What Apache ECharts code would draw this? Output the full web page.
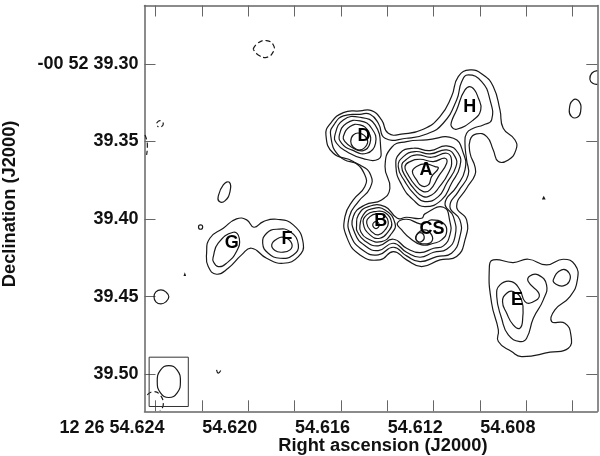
<!DOCTYPE html>
<html>
<head>
<meta charset="utf-8">
<style>
    html, body { margin: 0; padding: 0; background: #fff; }
    #main { width: 600px; height: 456px; }
</style>
<script src="https://cdn.jsdelivr.net/npm/echarts@6/dist/echarts.min.js"></script>
</head>
<body>
<div id="main"></div>
<script>
    // axis values: RA seconds of 12 26 .., Dec arcsec of -00 52 ..
    const raMin = 54.60494, raMax = 54.62448
    const decMin = 39.2623, decMax = 39.5240
    const raTicks = [54.624, 54.622, 54.620, 54.618, 54.616, 54.614, 54.612, 54.610, 54.608, 54.606]
    const raLabelValues = [54.624, 54.620, 54.616, 54.612, 54.608]
    const raLabels = ['12 26 54.624', '54.620', '54.616', '54.612', '54.608']
    const decTicks = [39.30, 39.35, 39.40, 39.45, 39.50]
    const decLabels = ['-00 52 39.30', '39.35', '39.40', '39.45', '39.50']

    // contours: [ms of RA above 54.600, mas of Dec below 39.300]
    const mainOuter = [[16.65,45.77],[16.45,38.25],[15.90,31.37],[15.18,30.30],[14.68,30.09],[14.25,36.10],[13.96,44.70],[13.31,45.13],[12.45,42.12],[11.73,33.95],[11.23,21.06],[10.94,8.17],[10.43,3.87],[9.86,7.09],[9.43,14.61],[9.14,29.66],[9.00,41.47],[8.49,49.0],[8.45,55.44],[8.78,61.89],[9.21,62.96],[9.43,55.44],[9.71,46.85],[10.15,45.13],[10.43,49.0],[10.43,57.59],[10.22,66.19],[10.22,71.56],[10.58,80.16],[11.01,92.0],[10.58,100.57],[10.65,113.47],[11.01,124.21],[11.73,126.36],[12.52,130.66],[13.17,126.36],[13.74,120.99],[14.32,126.36],[15.18,123.14],[15.76,111.32],[15.83,98.42],[15.47,87.68],[14.97,79.08],[14.97,71.56],[15.47,62.96],[16.33,57.59]]
    const mainSecond = [[16.45,45.77],[16.26,38.25],[15.90,33.52],[15.18,32.45],[14.75,32.45],[14.39,38.25],[14.10,47.92],[13.17,47.92],[12.30,45.13],[11.59,38.25],[11.01,23.21],[10.79,11.39],[10.51,7.09],[9.93,11.39],[9.57,23.21],[9.50,36.10],[9.86,39.33],[10.29,41.47],[10.58,44.70],[10.65,51.15],[10.58,61.89],[10.51,71.56],[10.94,82.30],[11.30,92.0],[10.87,100.57],[10.87,111.32],[11.23,122.06],[11.87,124.21],[12.59,127.43],[13.17,123.78],[13.74,118.2],[14.39,123.14],[15.04,120.35],[15.59,110.24],[15.64,98.42],[15.25,88.75],[14.75,80.16],[14.72,71.56],[15.18,65.11],[16.05,59.74]]
    const mainThird = [[13.81,53.72],[13.17,50.07],[12.30,49.0],[11.15,47.92],[10.72,57.59],[10.65,68.34],[11.01,79.08],[11.51,89.83],[11.15,98.42],[11.08,111.32],[11.44,119.5],[12.0,121.42],[12.59,124.64],[13.17,121.42],[13.74,115.62],[14.39,120.35],[14.97,117.12],[15.40,109.17],[15.47,98.42],[14.97,90.9],[14.25,87.68],[13.89,80.16],[14.10,66.19]]
    const mainFourth = [[15.33,104.87],[15.25,97.35],[14.82,91.98],[14.10,91.98],[13.57,99.5],[13.17,98.85],[12.52,99.5],[12.38,96.7],[11.58,92.4],[11.30,101.65],[11.30,110.24],[11.58,117.33],[12.0,118.84],[12.59,121.63],[13.17,118.84],[13.74,113.04],[14.39,117.33],[14.97,114.11],[15.30,108.09]]
    const d1 = [[16.26,45.77],[15.90,36.10],[15.18,34.38],[14.53,39.33],[14.28,55.44],[14.39,61.46],[15.04,61.03],[15.76,56.52],[16.19,51.15]]
    const d2 = [[16.07,45.77],[15.76,38.25],[15.18,36.75],[14.68,41.47],[14.51,51.15],[14.89,57.59],[15.54,55.44],[15.97,51.15]]
    const d3 = [[15.90,46.85],[15.61,40.40],[15.18,39.33],[14.82,43.62],[14.75,51.15],[15.04,55.87],[15.54,53.72],[15.83,50.07]]
    const d4 = [[15.58,50.07],[15.47,45.77],[15.18,44.70],[14.89,47.92],[14.89,52.22],[15.18,55.44],[15.47,53.72]]
    const a1 = [[13.63,66.19],[13.46,57.59],[12.88,54.37],[12.16,55.87],[11.44,52.86],[10.94,57.59],[10.87,66.19],[11.23,76.93],[11.66,87.68],[12.38,91.98],[12.88,87.68],[13.38,78.01]]
    const a2 = [[13.53,66.19],[13.31,59.74],[12.81,56.52],[12.16,58.02],[11.44,55.44],[11.08,59.74],[11.04,66.19],[11.44,76.93],[11.80,85.53],[12.38,88.75],[12.81,84.45],[13.24,75.86]]
    const a3 = [[13.38,66.19],[13.17,61.46],[12.74,58.67],[12.09,60.17],[11.44,57.59],[11.23,61.89],[11.37,70.49],[11.80,80.16],[12.09,84.45],[12.45,85.53],[12.81,81.23],[13.17,73.71]]
    const a4 = [[13.24,66.19],[13.02,62.96],[12.59,61.46],[12.02,62.96],[11.51,60.81],[11.44,64.04],[11.80,72.64],[12.16,81.23],[12.45,82.30],[12.81,78.01],[13.10,71.56]]
    const a5 = [[12.92,69.41],[12.74,66.19],[12.38,64.47],[11.94,66.19],[11.80,67.26],[12.09,72.64],[12.23,78.01],[12.52,78.65],[12.74,74.78]]
    const b1 = [[15.18,103.8],[15.04,97.35],[14.68,93.48],[14.10,94.13],[13.67,102.72],[13.81,109.17],[14.25,114.54],[14.89,112.39],[15.15,108.09]]
    const b2 = [[15.04,102.72],[14.89,97.35],[14.53,95.2],[14.10,95.85],[13.81,102.72],[13.96,108.09],[14.32,112.39],[14.75,110.24]]
    const b3 = [[14.89,102.72],[14.75,98.42],[14.46,96.7],[14.10,97.99],[13.96,102.72],[14.10,107.02],[14.39,110.24],[14.68,108.09]]
    const b4 = [[14.63,103.8],[14.49,101.65],[14.35,103.8],[14.49,106.16]]
    const cs1 = [[13.57,102.72],[13.17,100.14],[12.59,103.15],[12.38,102.72],[12.09,100.57],[11.58,102.72],[11.44,108.09],[11.66,113.47],[12.0,115.62],[12.52,116.69],[13.02,112.39],[13.38,107.02]]
    const cs2 = [[12.74,110.24],[12.38,107.02],[12.09,110.24],[12.09,114.54],[12.38,116.05],[12.71,114.54]]
    const cs3 = [[12.76,111.32],[12.59,108.74],[12.41,111.32],[12.52,114.54],[12.71,114.11]]
    const h1 = [[11.23,37.18],[11.01,29.66],[10.65,16.76],[10.36,15.04],[10.07,22.13],[9.97,29.66],[10.29,36.10],[11.01,42.12],[11.23,40.40]]
    const gfOuter = [[21.80,122.06],[21.66,112.39],[21.08,105.95],[20.51,99.93],[20.07,100.57],[19.76,105.3],[19.35,101.65],[18.78,100.14],[18.06,103.8],[17.63,115.62],[17.84,124.21],[18.49,128.51],[19.21,125.29],[19.86,118.84],[20.29,123.14],[20.87,131.73],[21.37,135.6],[21.73,130.66]]
    const g1 = [[21.51,124.21],[21.30,115.62],[20.65,108.53],[20.39,112.39],[20.51,120.99],[20.94,128.51],[21.30,130.66],[21.51,127.44]]
    const f1 = [[19.38,115.62],[19.21,109.17],[18.78,106.59],[18.20,108.10],[17.84,116.69],[18.06,123.14],[18.63,125.29],[19.14,122.06]]
    const f2 = [[18.99,116.69],[18.78,113.04],[18.42,111.96],[18.13,115.62],[18.20,119.92],[18.56,121.42],[18.85,120.35]]
    const blob1 = [[21.30,85.53],[21.08,78.01],[20.82,76.29],[20.79,82.31],[21.01,88.32],[21.25,88.75]]
    const blob2 = [[22.15,105.09],[22.06,103.8],[21.97,105.09],[22.06,106.59]]
    const blob3 = [[24.07,150.2],[23.99,147.0],[23.77,145.7],[23.56,147.0],[23.43,150.2],[23.56,153.4],[23.77,154.7],[23.99,153.4]]
    const speck1 = [[22.76,136.3],[22.72,136.3],[22.74,135.5]]
    const speck2 = [[7.29,87.0],[7.25,85.8],[7.21,87.0]]
    const rightOval = [[6.15,29.66],[5.98,23.21],[5.72,24.28],[5.66,30.73],[5.80,34.38],[6.05,33.95]]
    const e1 = [[9.60,131.73],[9.43,126.36],[8.57,128.08],[7.92,125.93],[7.13,129.58],[6.41,125.93],[5.90,129.58],[5.80,139.25],[6.12,150.0],[6.77,158.59],[6.91,166.12],[6.34,167.19],[6.08,174.71],[6.19,183.31],[6.98,185.89],[8.21,188.68],[8.64,185.46],[9.21,179.01],[9.21,171.49],[9.50,154.30]]
    const e2 = [[9.28,150.0],[9.14,142.48],[8.64,140.33],[8.28,145.70],[8.06,153.22],[7.77,153.87],[7.44,148.92],[7.92,140.33],[7.85,136.67],[7.49,136.03],[7.13,142.48],[7.27,152.15],[7.70,163.97],[7.99,176.86],[8.28,179.01],[8.78,174.71],[9.07,163.97]]
    const e3 = [[9.03,153.22],[8.85,147.85],[8.57,146.77],[8.21,152.15],[8.16,163.97],[8.28,170.41],[8.57,168.26],[8.85,160.74]]
    const eLoop = [[6.84,139.25],[6.48,132.81],[6.15,134.96],[6.15,140.33],[6.41,143.12],[6.72,142.05]]
    const beam = [[23.43,194.5],[23.07,197.5],[22.93,204.8],[23.07,212.1],[23.43,215.1],[23.79,212.1],[23.93,204.8],[23.79,197.5]]

    // open arcs, cut by the frame or left unfinished
    const edgeArc = [[4.94,4.30],[5.18,6.0],[5.26,9.89],[5.14,12.47],[4.94,13.11]]
    const smallArc = [[21.37,197.3],[21.30,199.4],[21.19,197.7]]
    const beamBox = [[24.28,189.1],[22.59,189.1],[22.59,220.9],[24.28,220.9],[24.28,189.1]]

    // negative contours
    const negTop = [[19.79,-9.67],[19.57,-13.75],[19.21,-15.04],[18.92,-12.25],[18.92,-7.95],[19.21,-4.30],[19.57,-5.8],[19.79,-9.67]]
    const negSmall = [[23.96,38.25],[23.81,36.54],[23.67,38.68],[23.81,40.83],[23.93,39.97]]
    const negEdge = [[24.46,45.77],[24.36,51.15],[24.39,58.67]]
    const negCorner = [[24.36,213.4],[24.10,211.3],[23.81,213.4],[23.67,219.8],[23.81,223.7]]

    const closedContours = [mainOuter, mainSecond, mainThird, mainFourth, d1, d2, d3, d4, a1, a2, a3, a4, a5, b1, b2, b3, b4, cs1, cs2, cs3, h1, gfOuter, g1, f1, f2, blob1, blob2, blob3, rightOval, e1, e2, e3, eLoop, beam]
    const openContours = [edgeArc, smallArc]
    const specks = [speck1, speck2]
    const dashedContours = [negTop, negSmall, negEdge, negCorner]

    const peakNames = ['A', 'B', 'CS', 'D', 'E', 'F', 'G', 'H']
    const peakRa = [12.33, 14.28, 12.07, 15.01, 8.41, 18.33, 20.71, 10.44]
    const peakDec = [68.3, 101.2, 106.4, 46.4, 152.2, 112.8, 115.4, 27.7]

    const toSky = p => [54.6 + p[0] / 1000, 39.3 + p[1] / 1000]
    const axisColor = '#666'
    const inkColor = '#1a1a1a'
    const fontFamily = '"Liberation Sans", Arial, sans-serif'

    // line series smoothing clamps its control points, so contours go through a custom series
    function contourSeries(list, shapeType, smooth, stroke, lineWidth, lineDash) {
        return {
            type: 'custom',
            coordinateSystem: 'cartesian2d',
            clip: true,
            silent: true,
            data: list.map(c => toSky(c[0])),
            renderItem: function (params, api) {
                const points = list[params.dataIndex].map(p => api.coord(toSky(p)))
                return {
                    type: shapeType,
                    shape: { points: points, smooth: smooth },
                    style: { fill: 'none', stroke: stroke, lineWidth: lineWidth, lineDash: lineDash }
                }
            }
        }
    }

    const series = [
        contourSeries(closedContours, 'polygon', 0.5, inkColor, 1.2),
        contourSeries(openContours, 'polyline', 0.5, inkColor, 1.2),
        contourSeries(specks, 'polygon', 0, inkColor, 1.2),
        contourSeries(dashedContours, 'polyline', 0.5, inkColor, 1.2, [5, 3]),
        contourSeries([beamBox], 'polyline', 0, '#333', 1),
        {
            type: 'scatter',
            symbolSize: 0,
            silent: true,
            itemStyle: { opacity: 1 },
            data: peakNames.map((name, i) => ({ name: name, value: toSky([peakRa[i], peakDec[i]]) })),
            label: {
                show: true,
                position: 'inside',
                formatter: '{b}',
                color: '#000',
                fontFamily: fontFamily,
                fontWeight: 'bold',
                fontSize: 18
            }
        }
    ]

    function xAxisOption(position, showLabels) {
        return {
            type: 'value',
            position: position,
            inverse: true,
            min: raMin,
            max: raMax,
            splitLine: { show: false },
            axisLine: { show: true, onZero: false, lineStyle: { color: axisColor, width: 1.5 } },
            axisTick: { show: true, inside: true, length: 11, customValues: raTicks, lineStyle: { color: axisColor, width: 1 } },
            axisLabel: {
                show: showLabels,
                customValues: raLabelValues,
                formatter: v => raLabels[raLabelValues.findIndex(r => Math.abs(r - v) < 1e-6)],
                align: 'right',
                padding: [0, -9, 0, 0],
                margin: 8,
                color: '#111',
                fontFamily: fontFamily,
                fontWeight: 'bold',
                fontSize: 18
            }
        }
    }

    function yAxisOption(position, showLabels) {
        return {
            type: 'value',
            position: position,
            inverse: true,
            min: decMin,
            max: decMax,
            splitLine: { show: false },
            axisLine: { show: true, onZero: false, lineStyle: { color: axisColor, width: 1.5 } },
            axisTick: { show: true, inside: true, length: 11, customValues: decTicks, lineStyle: { color: axisColor, width: 1 } },
            axisLabel: {
                show: showLabels,
                customValues: decTicks,
                formatter: v => decLabels[decTicks.findIndex(d => Math.abs(d - v) < 1e-6)],
                margin: 6,
                color: '#111',
                fontFamily: fontFamily,
                fontWeight: 'bold',
                fontSize: 18
            }
        }
    }

    const nameStyle = { color: '#111', fontFamily: fontFamily, fontWeight: 'bold', fontSize: 18.3 }

    const chart = echarts.init(document.getElementById('main'))
    chart.setOption({
        animation: false,
        backgroundColor: '#fff',
        grid: { left: 144.5, top: 5.5, right: 2.7, bottom: 44.7, containLabel: false, outerBoundsMode: 'none' },
        xAxis: [
            Object.assign(xAxisOption('bottom', true), {
                name: 'Right ascension (J2000)',
                nameLocation: 'middle',
                nameGap: 26,
                nameMoveOverlap: false,
                nameTextStyle: Object.assign({ padding: [0, 0, 0, 24] }, nameStyle)
            }),
            xAxisOption('top', false)
        ],
        yAxis: [
            Object.assign(yAxisOption('left', true), {
                name: 'Declination (J2000)',
                nameLocation: 'middle',
                nameGap: 126,
                nameMoveOverlap: false,
                nameTextStyle: Object.assign({ padding: [0, 0, 0, 9] }, nameStyle)
            }),
            yAxisOption('right', false)
        ],
        series: series
    })
</script>
</body>
</html>
